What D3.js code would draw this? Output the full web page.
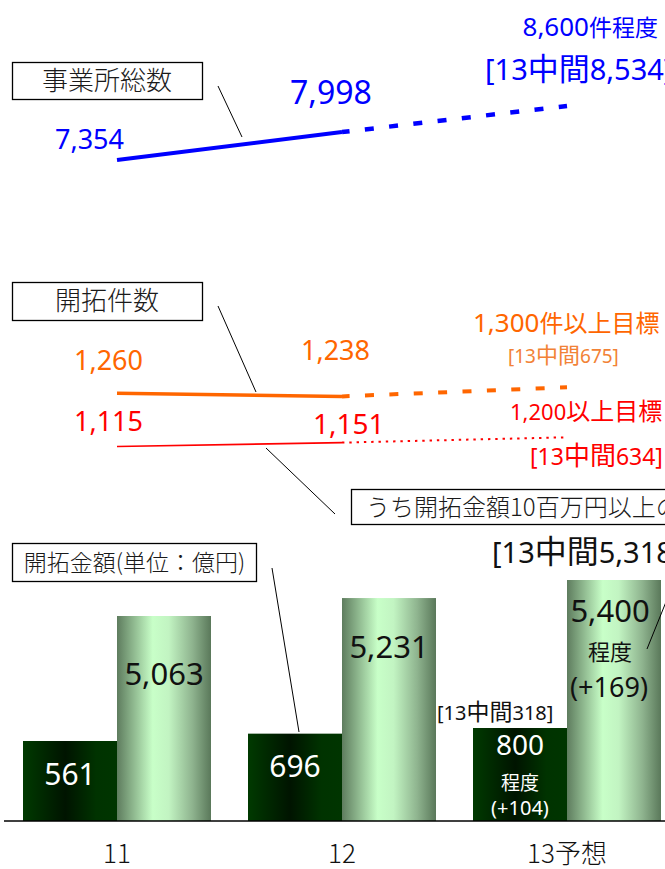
<!DOCTYPE html>
<html>
<head>
<meta charset="utf-8">
<script src="https://cdn.jsdelivr.net/npm/d3@7"></script>
<style>
  html, body { margin: 0; padding: 0; background: #fff; }
  svg { display: block; }
</style>
</head>
<body>
<svg id="chart" width="665" height="869"></svg>
<script>
// ---- data ----
const years = ["11", "12", "13予想"];
const officeTotal = [7354, 7998, 8600];      // 事業所総数
const officeTotalMid = 8534;
const openCount = [1260, 1238, 1300];         // 開拓件数
const openCountMid = 675;
const openCountLarge = [1115, 1151, 1200];    // うち開拓金額10百万円以上
const openCountLargeMid = 634;
const openAmount = [561, 696, 800];           // 開拓金額(億円)
const openAmountMid = 318;
const otherAmount = [5063, 5231, 5400];
const otherAmountMid = 5318;

// ---- setup ----
const W = 665, H = 869, baseY = 821, barW = 94;
const LAT = "'Noto Sans', 'Noto Sans CJK JP', sans-serif";
const CJK = "'Noto Sans CJK JP', 'Noto Sans', sans-serif";
const fmt = d3.format(",");
const fmtDiff = d3.format("+");

const svg = d3.select("#chart");
svg.append("rect").attr("width", W).attr("height", H).attr("fill", "#fff");

const x = d3.scalePoint().domain(years).range([117, 567]);
const yOther = d3.scaleLinear().domain([3144, 5400]).range([baseY, 580]);
const yAmount = d3.scaleLinear().domain([-910, 800]).range([baseY, 728]);
const yOffice = d3.scaleLinear().domain([7354, 8600]).range([160, 106]);
const yCount = d3.scaleLinear().domain([1238, 1300]).range([396.4, 387.3]);
const yLarge = d3.scaleLinear().domain([1115, 1200]).range([446.5, 437.3]);

// mixed Latin / Japanese text, each run in its own tspan
const cjkRe = /[\u3000-\u30ff\u4e00-\u9fff\uff00-\uffef]/;
const runRe = /[\u3000-\u30ff\u4e00-\u9fff\uff00-\uffef]+|[^\u3000-\u30ff\u4e00-\u9fff\uff00-\uffef]+/g;
function txt(parent, str, o) {
  const t = parent.append("text")
    .attr("x", o.x).attr("y", o.y)
    .attr("fill", o.fill || "#111")
    .attr("text-anchor", o.anchor || "start");
  for (const m of str.match(runRe)) {
    const isCjk = cjkRe.test(m);
    t.append("tspan").text(m)
      .attr("font-size", isCjk ? (o.cjkSize || o.size) : o.size)
      .attr("font-family", o.family || (isCjk ? CJK : LAT))
      .attr("font-weight", o.weight || 400);
  }
  return t;
}

// ---- gradients ----
const defs = svg.append("defs");
const gDark = defs.append("linearGradient").attr("id", "gDark").attr("x1", 0).attr("x2", 1).attr("y1", 0).attr("y2", 0);
[[0, "#003a00"], [0.45, "#001400"], [0.78, "#003300"], [1, "#003500"]]
  .forEach(([o, c]) => gDark.append("stop").attr("offset", o).attr("stop-color", c));
const gLight = defs.append("linearGradient").attr("id", "gLight").attr("x1", 0).attr("x2", 1).attr("y1", 0).attr("y2", 0);
[[0, "#5e7c5e"], [0.38, "#c8ffc8"], [0.55, "#c2f4c2"], [0.8, "#8fb48f"], [1, "#5a785a"]]
  .forEach(([o, c]) => gLight.append("stop").attr("offset", o).attr("stop-color", c));

// ---- bars ----
const bars = svg.append("g");
bars.selectAll("rect.amount").data(openAmount).join("rect")
  .attr("class", "amount")
  .attr("x", (d, i) => x(years[i]) - barW)
  .attr("width", barW)
  .attr("y", d => yAmount(d))
  .attr("height", d => baseY - yAmount(d))
  .attr("fill", "url(#gDark)");
bars.selectAll("rect.other").data(otherAmount).join("rect")
  .attr("class", "other")
  .attr("x", (d, i) => x(years[i]))
  .attr("width", barW)
  .attr("y", d => yOther(d))
  .attr("height", d => baseY - yOther(d))
  .attr("fill", "url(#gLight)");

// baseline
svg.append("line").attr("x1", 4).attr("x2", W).attr("y1", baseY).attr("y2", baseY)
  .attr("stroke", "#000").attr("stroke-width", 1.5);

// category labels
years.forEach(yr => {
  txt(svg, yr, { x: x(yr), y: 863, size: 26, anchor: "middle", family: CJK, fill: "#111", weight: 300 });
});

// ---- lines ----
const line = scale => d3.line().x(d => x(d.k)).y(d => scale(d.v));
const pts = vals => vals.map((v, i) => ({ k: years[i], v }));

function series(vals, scale, color, solidW, dashW, dash, offset) {
  const p = pts(vals);
  svg.append("path").attr("d", line(scale)(p.slice(0, 2)))
    .attr("fill", "none").attr("stroke", color).attr("stroke-width", solidW);
  svg.append("path").attr("d", line(scale)(p.slice(1)))
    .attr("fill", "none").attr("stroke", color).attr("stroke-width", dashW)
    .attr("stroke-dasharray", dash).attr("stroke-dashoffset", offset);
}
series(officeTotal, yOffice, "#0000ff", 4, 4.5, "9,15.4", 1.4);
series(openCount, yCount, "#ff6600", 3.5, 4, "9,15.4", 1.4);
series(openCountLarge, yLarge, "#ff0000", 1.6, 2, "2.4,4.9", 0);

// ---- leader lines ----
const leaders = [
  [218, 86, 242, 137],
  [218, 306, 256, 392],
  [266, 448, 335, 514],
  [272, 568, 299, 732],
  [670, 592, 647, 649]
];
svg.append("g").selectAll("line").data(leaders).join("line")
  .attr("x1", d => d[0]).attr("y1", d => d[1]).attr("x2", d => d[2]).attr("y2", d => d[3])
  .attr("stroke", "#000").attr("stroke-width", 1);

// ---- boxed captions ----
function box(label, bx, by, bw, bh, tx, ty, size, anchor) {
  svg.append("rect").attr("x", bx).attr("y", by).attr("width", bw).attr("height", bh)
    .attr("fill", "#fff").attr("stroke", "#000").attr("stroke-width", 1.3);
  txt(svg, label, { x: tx, y: ty, size, family: CJK, anchor: anchor || "middle", fill: "#1a1a1a", weight: 300 });
}
box("事業所総数", 12.5, 62.5, 190, 37, 107, 90, 26);
box("開拓件数", 12.5, 282.5, 190, 38, 107, 310, 26);
box("うち開拓金額10百万円以上の", 351.5, 489.5, 400, 35, 366, 516, 24, "start");
box("開拓金額(単位：億円)", 12.5, 543.5, 244, 38, 134.5, 571, 23);

// ---- office total labels ----
const BLUE = "#0000ff";
txt(svg, fmt(officeTotal[0]), { x: x(years[0]) - 62, y: yOffice(officeTotal[0]) - 11, size: 27, fill: BLUE });
txt(svg, fmt(officeTotal[1]), { x: x(years[1]) - 52, y: yOffice(officeTotal[1]) - 28, size: 32, fill: BLUE });
txt(svg, fmt(officeTotal[2]) + "件程度", { x: 658, y: 36, size: 26, cjkSize: 23, fill: BLUE, anchor: "end" });
txt(svg, "[13中間" + fmt(officeTotalMid) + "]", { x: 485, y: 80, size: 29, cjkSize: 31, fill: BLUE });

// ---- open count labels ----
const ORANGE = "#ff6600";
txt(svg, fmt(openCount[0]), { x: x(years[0]) - 43, y: 370, size: 27, fill: ORANGE });
txt(svg, fmt(openCount[1]), { x: x(years[1]) - 41, y: 360, size: 27, fill: ORANGE });
txt(svg, fmt(openCount[2]) + "件以上目標", { x: 473, y: 332, size: 26, cjkSize: 24, fill: ORANGE });
txt(svg, "[13中間" + openCountMid + "]", { x: 508, y: 363, size: 19, cjkSize: 22, fill: "#f28236" });

// ---- large-deal count labels ----
const RED = "#ff0000";
txt(svg, fmt(openCountLarge[0]), { x: x(years[0]) - 43, y: 431, size: 27, fill: RED });
txt(svg, fmt(openCountLarge[1]), { x: x(years[1]) - 29, y: 434, size: 28, fill: RED });
txt(svg, fmt(openCountLarge[2]) + "以上目標", { x: 510, y: 420, size: 22, cjkSize: 24, fill: RED });
txt(svg, "[13中間" + openCountLargeMid + "]", { x: 530, y: 465, size: 23, cjkSize: 26, fill: RED });

// ---- bar labels ----
const cxDark = i => x(years[i]) - barW / 2;
const cxLight = i => x(years[i]) + barW / 2;
txt(svg, fmt(openAmount[0]), { x: cxDark(0), y: 785, size: 30, fill: "#fff", anchor: "middle" });
txt(svg, fmt(openAmount[1]), { x: cxDark(1), y: 777, size: 30, fill: "#fff", anchor: "middle" });
txt(svg, fmt(openAmount[2]), { x: cxDark(2), y: 755, size: 28, fill: "#fff", anchor: "middle" });
txt(svg, "程度", { x: cxDark(2), y: 790, size: 19, fill: "#fff", anchor: "middle" });
txt(svg, "(" + fmtDiff(openAmount[2] - openAmount[1]) + ")", { x: cxDark(2), y: 815, size: 20, fill: "#fff", anchor: "middle" });
txt(svg, "[13中間" + openAmountMid + "]", { x: 437, y: 720, size: 20, cjkSize: 23, fill: "#111" });

txt(svg, fmt(otherAmount[0]), { x: cxLight(0), y: 685, size: 31, fill: "#111", anchor: "middle" });
txt(svg, fmt(otherAmount[1]), { x: cxLight(1), y: 658, size: 31, fill: "#111", anchor: "middle" });
txt(svg, fmt(otherAmount[2]), { x: cxLight(2) - 4, y: 622, size: 31, fill: "#111", anchor: "middle" });
txt(svg, "程度", { x: cxLight(2) - 4, y: 660, size: 22, fill: "#111", anchor: "middle" });
txt(svg, "(" + fmtDiff(otherAmount[2] - otherAmount[1]) + ")", { x: cxLight(2) - 5, y: 697, size: 27, fill: "#111", anchor: "middle" });
txt(svg, "[13中間" + fmt(otherAmountMid) + "]", { x: 492, y: 563, size: 29, cjkSize: 32, fill: "#111" });
</script>
</body>
</html>
